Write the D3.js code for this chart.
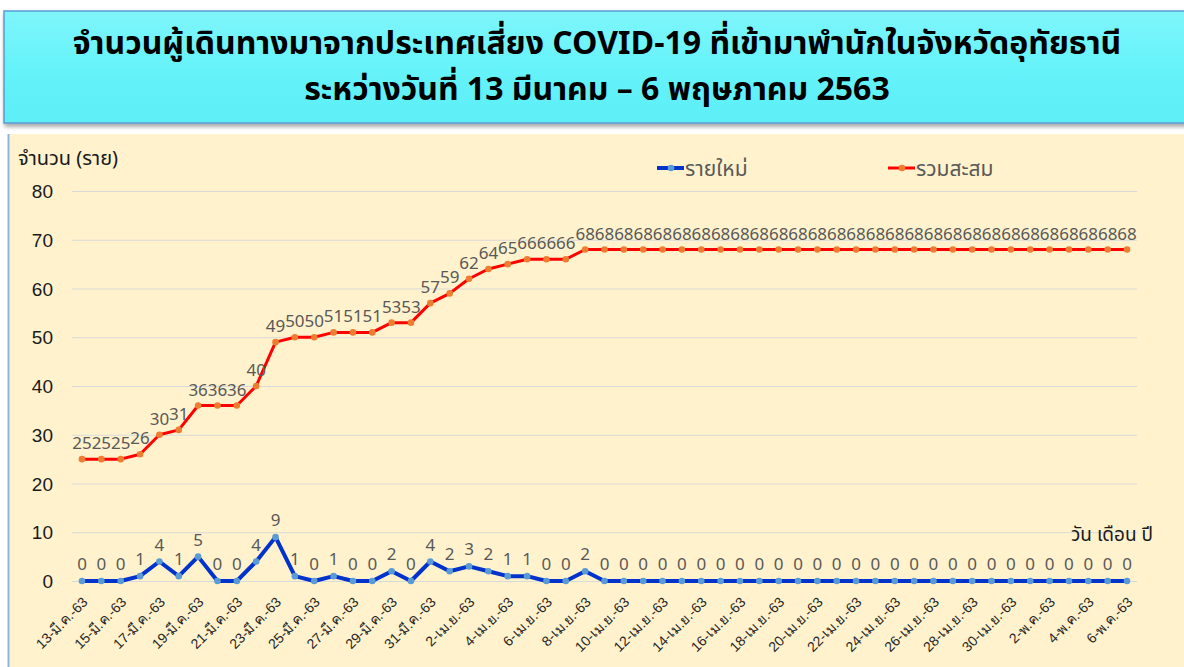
<!DOCTYPE html>
<html><head><meta charset="utf-8">
<script src="https://cdn.jsdelivr.net/npm/d3@7"></script>
<style>
html,body{margin:0;padding:0;background:#fff;}
svg{display:block;font-family:"Noto Sans Thai","Tahoma","Noto Sans","DejaVu Sans",sans-serif;}
</style></head>
<body>
<svg id="c" width="1184" height="667"></svg>
<script>
const categories = [
"13-มี.ค.-63","14-มี.ค.-63","15-มี.ค.-63","16-มี.ค.-63","17-มี.ค.-63","18-มี.ค.-63","19-มี.ค.-63","20-มี.ค.-63","21-มี.ค.-63","22-มี.ค.-63",
"23-มี.ค.-63","24-มี.ค.-63","25-มี.ค.-63","26-มี.ค.-63","27-มี.ค.-63","28-มี.ค.-63","29-มี.ค.-63","30-มี.ค.-63","31-มี.ค.-63",
"1-เม.ย.-63","2-เม.ย.-63","3-เม.ย.-63","4-เม.ย.-63","5-เม.ย.-63","6-เม.ย.-63","7-เม.ย.-63","8-เม.ย.-63","9-เม.ย.-63","10-เม.ย.-63",
"11-เม.ย.-63","12-เม.ย.-63","13-เม.ย.-63","14-เม.ย.-63","15-เม.ย.-63","16-เม.ย.-63","17-เม.ย.-63","18-เม.ย.-63","19-เม.ย.-63","20-เม.ย.-63",
"21-เม.ย.-63","22-เม.ย.-63","23-เม.ย.-63","24-เม.ย.-63","25-เม.ย.-63","26-เม.ย.-63","27-เม.ย.-63","28-เม.ย.-63","29-เม.ย.-63","30-เม.ย.-63",
"1-พ.ค.-63","2-พ.ค.-63","3-พ.ค.-63","4-พ.ค.-63","5-พ.ค.-63","6-พ.ค.-63"];
const newCases = [0,0,0,1,4,1,5,0,0,4,9,1,0,1,0,0,2,0,4,2,3,2,1,1,0,0,2,0,0,0,0,0,0,0,0,0,0,0,0,0,0,0,0,0,0,0,0,0,0,0,0,0,0,0,0];
const cumulative = [25,25,25,26,30,31,36,36,36,40,49,50,50,51,51,51,53,53,57,59,62,64,65,66,66,66,68,68,68,68,68,68,68,68,68,68,68,68,68,68,68,68,68,68,68,68,68,68,68,68,68,68,68,68,68];
const yTicks = [0,10,20,30,40,50,60,70,80];
const seriesNames = ["รายใหม่","รวมสะสม"];
const titleLines = ["จำนวนผู้เดินทางมาจากประเทศเสี่ยง COVID-19 ที่เข้ามาพำนักในจังหวัดอุทัยธานี","ระหว่างวันที่ 13 มีนาคม – 6 พฤษภาคม 2563"];

const svg = d3.select("#c");
const defs = svg.append("defs");
const g1 = defs.append("linearGradient").attr("id","tg").attr("x1",0).attr("y1",0).attr("x2",0).attr("y2",1);
g1.append("stop").attr("offset","0%").attr("stop-color","#7ef6fb");
g1.append("stop").attr("offset","50%").attr("stop-color","#66f3fa");
g1.append("stop").attr("offset","100%").attr("stop-color","#5eeef6");
const sh = defs.append("filter").attr("id","sh").attr("x","-5%").attr("y","-20%").attr("width","110%").attr("height","140%");
sh.append("feDropShadow").attr("dx",1).attr("dy",3).attr("stdDeviation",2).attr("flood-color","#000").attr("flood-opacity",0.35);

// title box
svg.append("rect").attr("x",4).attr("y",11).attr("width",1190).attr("height",112)
  .attr("fill","url(#tg)").attr("stroke","#5b9bd5").attr("stroke-width",1.5).attr("filter","url(#sh)");
svg.selectAll("text.title").data(titleLines).join("text").attr("class","title")
  .attr("x",597).attr("y",(d,i)=>54+i*46).attr("text-anchor","middle")
  .attr("font-size",32).attr("font-weight","bold").attr("fill","#000").text(d=>d);

// chart area
svg.append("rect").attr("x",8).attr("y",134).attr("width",1180).attr("height",540).attr("fill","#fff2cc");
svg.append("line").attr("x1",8.5).attr("x2",8.5).attr("y1",134).attr("y2",667).attr("stroke","#8db3e2").attr("stroke-width",2);

const x = d3.scalePoint().domain(categories).range([82,1127]);
const y = d3.scaleLinear().domain([0,80]).range([581,191]);

// gridlines
svg.append("g").selectAll("line").data(yTicks).join("line")
  .attr("x1",72).attr("x2",1137).attr("y1",d=>y(d)+0.5).attr("y2",d=>y(d)+0.5)
  .attr("stroke","#d9d9d9").attr("stroke-width",1);

// y axis labels
const yAxis = d3.axisLeft(y).tickValues(yTicks).tickSize(0).tickPadding(0);
const ya = svg.append("g").attr("transform","translate(53,0)").call(yAxis);
ya.select(".domain").remove();
ya.selectAll("text").attr("font-size",19).attr("fill","#1a1a1a").attr("font-family","inherit").attr("dy","0.35em");

svg.append("text").attr("x",18).attr("y",165).attr("font-size",20).attr("fill","#1a1a1a").text("จำนวน (ราย)");

// x axis labels
const xa = svg.append("g").attr("transform","translate(0,581)")
  .call(d3.axisBottom(x).tickValues(categories.filter((d,i)=>i%2===0)).tickSize(0).tickPadding(0));
xa.select(".domain").remove();
xa.selectAll("text").attr("font-size",14).attr("fill","#262626").attr("font-family","inherit")
  .attr("text-anchor","end").attr("dy",0).attr("y",0)
  .attr("transform","translate(6,22) rotate(-45)");

svg.append("text").attr("x",1153).attr("y",541).attr("text-anchor","end").attr("font-size",19).attr("fill","#1a1a1a").text("วัน เดือน ปี");

// lines
const line = (arr)=>d3.line().x((d,i)=>x(categories[i])).y(d=>y(d))(arr);
svg.append("path").attr("d",line(cumulative)).attr("fill","none").attr("stroke","#ff0000").attr("stroke-width",3).attr("stroke-linejoin","round");
svg.append("path").attr("d",line(newCases)).attr("fill","none").attr("stroke","#0033cc").attr("stroke-width",4).attr("stroke-linejoin","round");

svg.append("g").selectAll("circle").data(cumulative).join("circle")
  .attr("cx",(d,i)=>x(categories[i])).attr("cy",d=>y(d)).attr("r",3.3).attr("fill","#ed7d31");
svg.append("g").selectAll("circle").data(newCases).join("circle")
  .attr("cx",(d,i)=>x(categories[i])).attr("cy",d=>y(d)).attr("r",3.3).attr("fill","#5b9bd5");

// data labels
svg.append("g").selectAll("text").data(cumulative).join("text")
  .attr("x",(d,i)=>x(categories[i])).attr("y",d=>y(d)-10).attr("text-anchor","middle")
  .attr("font-size",17).attr("fill","#595959").text(d=>d);
svg.append("g").selectAll("text").data(newCases).join("text")
  .attr("x",(d,i)=>x(categories[i])).attr("y",d=>y(d)-11).attr("text-anchor","middle")
  .attr("font-size",17).attr("fill","#595959").text(d=>d);

// legend
const leg = [{n:seriesNames[0],c:"#0033cc",m:"#5b9bd5",x:657,w:4},{n:seriesNames[1],c:"#ff0000",m:"#ed7d31",x:888,w:3}];
leg.forEach(l=>{
  svg.append("line").attr("x1",l.x).attr("x2",l.x+27).attr("y1",168).attr("y2",168).attr("stroke",l.c).attr("stroke-width",l.w);
  svg.append("circle").attr("cx",l.x+14).attr("cy",168).attr("r",3.3).attr("fill",l.m);
  svg.append("text").attr("x",l.x+28).attr("y",176).attr("font-size",21).attr("fill","#595959").text(l.n);
});
</script>
</body></html>
